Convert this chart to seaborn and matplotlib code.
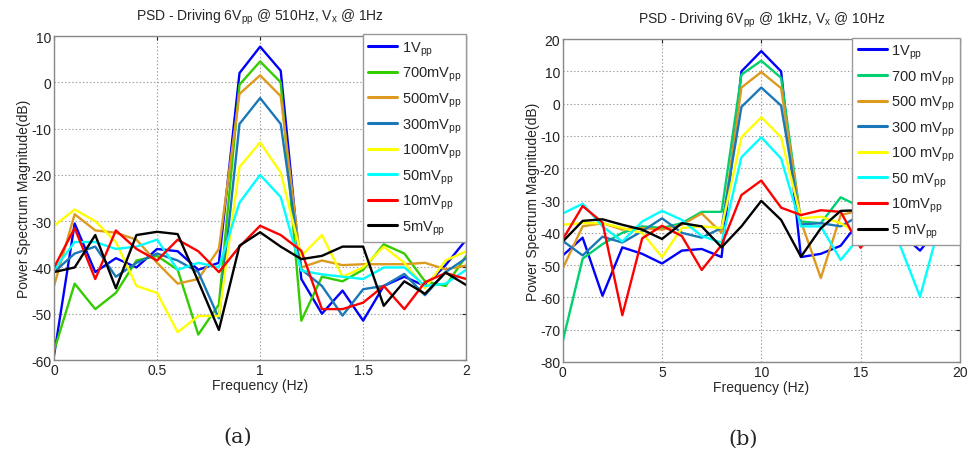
import numpy as np
import pandas as pd
import matplotlib
matplotlib.use("Agg")
import matplotlib.pyplot as plt
import seaborn as sns

sns.set_style("white")
plt.rcParams['font.family'] = ['Liberation Sans', 'DejaVu Sans']
plt.rcParams['mathtext.fontset'] = 'custom'
plt.rcParams['mathtext.rm'] = 'Liberation Sans'
plt.rcParams['mathtext.it'] = 'Liberation Sans'
plt.rcParams['axes.unicode_minus'] = False

# ---- panel (a): driving 6Vpp @ 510Hz, Vx @ 1Hz ----
freq_a = [round(0.1 * i, 1) for i in range(21)]
labels_a = ['1V', '700mV', '500mV', '300mV', '100mV', '50mV', '10mV', '5mV']
v1_a   = [-59, -30.5, -41, -38, -40, -36, -36.5, -40.5, -39, 2, 7.7, 2.5, -42.5, -50, -45, -51.5, -44, -42, -44, -39.5, -34]
v700_a = [-58, -43.5, -49, -45.5, -38.5, -37.5, -40.5, -54.5, -48, -0.5, 4.5, 0, -51.5, -42, -43, -40.5, -35, -37, -43, -44, -37.5]
v500_a = [-44, -28.5, -32, -32.5, -34, -39, -43.5, -42.5, -36, -2.5, 1.5, -3, -40, -38.5, -39.5, -39.3, -39.3, -39.3, -39, -40.4, -39.6]
v300_a = [-41, -37, -35.5, -42, -39, -37, -38.5, -41, -51, -9, -3.4, -9, -40.4, -44, -50.4, -44.7, -44, -41.4, -46, -41, -38]
v100_a = [-31, -27.5, -30, -34.5, -44, -45.5, -54, -50.5, -50.5, -18.3, -13, -19.5, -37.5, -33, -42, -40, -35.5, -39, -44.5, -38.5, -36.5]
v50_a  = [-40.5, -34.5, -34.5, -36, -35.5, -34, -40.5, -39, -40, -26, -20, -24.8, -40.7, -41.5, -42, -42.5, -40, -40, -44, -43.5, -40.5]
v10_a  = [-40, -31.5, -42.5, -32, -36, -38.5, -34, -36.5, -41, -35.5, -31, -33, -36.4, -49, -49, -47.6, -44, -49, -43.2, -41.2, -42.5]
v5_a   = [-41, -40, -33, -44.5, -33, -32.3, -32.8, -43, -53.5, -35.3, -32.4, -35.5, -38.2, -37.5, -35.5, -35.5, -48.3, -43, -45.7, -41.1, -43.8]

# ---- panel (b): driving 6Vpp @ 1kHz, Vx @ 10Hz ----
freq_b = list(range(21))
labels_b = ['1V', '700 mV', '500 mV', '300 mV', '100 mV', '50 mV', '10mV', '5 mV']
v1_b   = [-47, -41.5, -59.5, -44.5, -46.5, -49.5, -45.5, -45, -47.5, 10, 16.3, 10, -47.5, -46.5, -44, -36, -38, -40, -45.5, -38, -36]
v700_b = [-73.5, -48, -43.5, -40, -38, -38.5, -37, -33.5, -33.5, 9, 13.3, 8, -36.5, -37, -29, -32, -34, -36, -38, -36, -35]
v500_b = [-51, -38, -37, -39, -38.5, -39, -37.5, -34, -40, 5, 9.8, 4.8, -36.5, -54, -34.5, -33, -36, -37, -38, -36, -35]
v300_b = [-42.5, -47, -41.2, -43, -39.5, -35.5, -40, -41.5, -38.5, -1, 5, -0.6, -37.4, -37, -38, -34.5, -36, -37, -38, -36, -35]
v100_b = [-37.5, -37, -37, -38.5, -40, -47.5, -38.5, -38, -38.5, -10.4, -4.2, -10.4, -35.5, -35, -37, -40.9, -42, -38, -38, -36, -35]
v50_b  = [-34, -31, -38, -42.7, -36.5, -33.2, -36, -41, -43, -16.6, -10.4, -17, -38, -38, -48.4, -40.9, -38, -44, -59.8, -37, -33]
v10_b  = [-42, -31.7, -36.8, -65.5, -41.7, -37.8, -41, -51.5, -43.8, -28.3, -23.8, -32.2, -34.5, -33, -33.5, -44.6, -38, -37, -36, -36, -35]
v5_b   = [-42.7, -36.3, -35.8, -37.5, -39, -41.9, -37, -38, -44.5, -38, -30.1, -36, -47.4, -38.6, -33.2, -33, -36, -37, -38, -36, -35]

colors_a = ['#0000ff', '#33cc00', '#dd9a1e', '#1a78b8', '#ffff00', '#00ffff', '#ff0000', '#000000']
colors_b = ['#0000ff', '#00d070', '#dd9a1e', '#1a78b8', '#ffff00', '#00ffff', '#ff0000', '#000000']


def long_form(freq, labels, series):
    rows = []
    for lab, vals in zip(labels, series):
        for f, v in zip(freq, vals):
            rows.append({'Frequency': f, 'Magnitude': v, 'Level': lab})
    return pd.DataFrame(rows)


df_a = long_form(freq_a, labels_a, [v1_a, v700_a, v500_a, v300_a, v100_a, v50_a, v10_a, v5_a])
df_b = long_form(freq_b, labels_b, [v1_b, v700_b, v500_b, v300_b, v100_b, v50_b, v10_b, v5_b])

fig = plt.figure(figsize=(9.72, 4.56), dpi=100)
ax_a = fig.add_axes([0.0556, 0.2083, 0.424, 0.7105])
ax_b = fig.add_axes([0.579, 0.204, 0.4084, 0.708])


def draw(ax, df, labels, colors, xlim, xticks, xticklabels, ylim, title):
    sns.lineplot(data=df, x='Frequency', y='Magnitude', hue='Level', hue_order=labels,
                 palette=colors, linewidth=1.7, ax=ax, legend=True)
    ax.set_xlim(*xlim)
    ax.set_ylim(*ylim)
    ax.set_xticks(xticks)
    ax.set_xticklabels(xticklabels)
    ax.set_yticks(np.arange(ylim[0], ylim[1] + 1, 10))
    ax.grid(True, linestyle=(0, (1.2, 2.0)), color='#999999', linewidth=0.8)
    ax.tick_params(labelsize=10, direction='in', length=3, pad=2, colors='#222222',
                   top=True, right=True)
    for sp in ax.spines.values():
        sp.set_color('#888888')
        sp.set_linewidth(1.0)
    ax.set_xlabel('Frequency (Hz)', fontsize=10, labelpad=1)
    ax.set_ylabel('Power Spectrum Magnitude(dB)', fontsize=10, labelpad=0)
    ax.set_title(title, fontsize=10, pad=12)
    handles, _ = ax.get_legend_handles_labels()
    leg = ax.legend(handles, [l + r'$_{\mathrm{pp}}$' for l in labels], loc='upper right',
                    bbox_to_anchor=(1.0, 1.005), fontsize=10.5, frameon=True, fancybox=False,
                    framealpha=1, edgecolor='#999999', borderaxespad=0.0,
                    handlelength=2.0, handletextpad=0.3, labelspacing=0.5,
                    borderpad=0.35)
    leg.get_frame().set_linewidth(1.0)
    for h in leg.get_lines():
        h.set_linewidth(2.2)


draw(ax_a, df_a, labels_a, colors_a, (0, 2), [0, 0.5, 1, 1.5, 2], ['0', '0.5', '1', '1.5', '2'],
     (-60, 10), r'PSD - Driving 6V$_{\mathrm{pp}}$ @ 510Hz, V$_{\mathrm{x}}$ @ 1Hz')
draw(ax_b, df_b, labels_b, colors_b, (0, 20), [0, 5, 10, 15, 20], ['0', '5', '10', '15', '20'],
     (-80, 20), r'PSD - Driving 6V$_{\mathrm{pp}}$ @ 1kHz, V$_{\mathrm{x}}$ @ 10Hz')

fig.text(0.245, 0.042, '(a)', fontsize=15, family='DejaVu Serif', ha='center', va='center')
fig.text(0.765, 0.036, '(b)', fontsize=15, family='DejaVu Serif', ha='center', va='center')

fig.savefig('out.png', dpi=100)
